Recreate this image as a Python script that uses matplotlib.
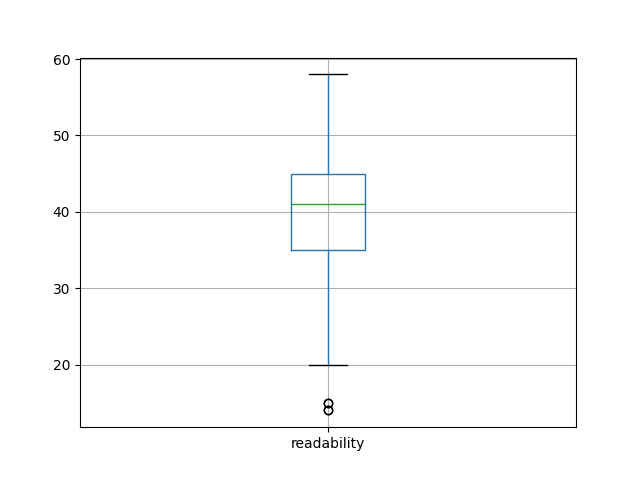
import matplotlib
matplotlib.use("Agg")
import matplotlib.pyplot as plt

labels = ["readability"]
q1 = [35]
med = [41]
q3 = [45]
whislo = [20]
whishi = [58]
fliers = [[15, 15, 14, 14]]

stats = []
for i in range(len(labels)):
    stats.append({"label": labels[i], "q1": q1[i], "med": med[i], "q3": q3[i],
                  "whislo": whislo[i], "whishi": whishi[i], "fliers": fliers[i]})

fig, ax = plt.subplots(figsize=(6.4, 4.8), dpi=100)
ax.bxp(stats,
       boxprops=dict(color="C0"),
       whiskerprops=dict(color="C0"),
       medianprops=dict(color="C2"),
       capprops=dict(color="k"),
       flierprops=dict(marker="o", markeredgecolor="k", markerfacecolor="none"))
ax.grid(True)
plt.savefig("out.png")
